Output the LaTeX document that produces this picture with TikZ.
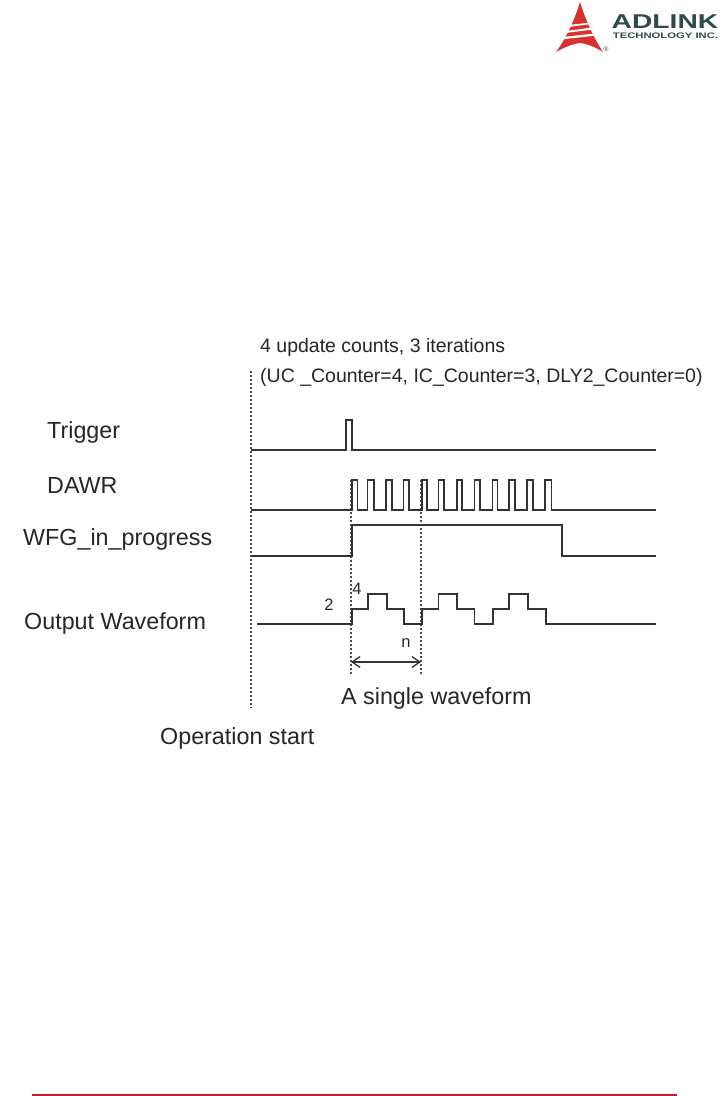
\documentclass[tikz,border=0pt]{standalone}
\usepackage{fontspec}
\setmainfont{Liberation Sans}
\usetikzlibrary{arrows.meta}
\definecolor{logored}{HTML}{D9302C}
\definecolor{logodark}{HTML}{2F4A4C}
\definecolor{rulered}{HTML}{C01F2B}
\definecolor{wavecol}{HTML}{333333}
\tikzset{
  x=1pt,y=-1pt,
  wave/.style={draw=wavecol,line width=1.6pt,line join=miter},
  guide/.style={draw=black!70,line width=1.2pt,dash pattern=on 1.5pt off 2.5pt},
  lab/.style={inner sep=0pt,anchor=west,text=black!85,font=\fontsize{23.3}{26}\selectfont},
  note/.style={inner sep=0pt,anchor=west,text=black!85,font=\fontsize{19.5}{22}\selectfont},
  small/.style={inner sep=0pt,text=black!85,font=\fontsize{16.5}{18}\selectfont},
}
\begin{document}
\begin{tikzpicture}
\useasboundingbox (0,0) rectangle (722,1096);
% logo
\fill[logored] (580,2) .. controls (586,22) and (595,40) .. (603,52)
  .. controls (595,47) and (588,44) .. (580,43)
  .. controls (572,44) and (565,47) .. (556,52)
  .. controls (565,40) and (574,22) .. (580,2) -- cycle;
\fill[white] (569,25) -- (590,22.5) -- (591,24) -- (568,27) -- cycle;
\fill[white] (566,31) -- (592,27.5) -- (593.5,29.5) -- (565,33) -- cycle;
\fill[white] (562,37) -- (595,33.5) -- (596.5,35.5) -- (561,39.5) -- cycle;
\node[inner sep=0pt,text=logodark,font=\fontsize{20}{20}\selectfont\bfseries] (adl) at (665,21.5) {\scalebox{1.41}[1]{ADLINK}};
\node[inner sep=0pt,text=logodark,font=\fontsize{8}{9}\selectfont\bfseries] (tech) at (665.5,35.5) {\scalebox{1.41}[1]{TECHNOLOGY INC.}};
\node[inner sep=0pt,text=logodark,font=\fontsize{6.5}{7}\selectfont] (reg) at (606,49) {®};
% footer
\coordinate (fl) at (32,1095);
\coordinate (fr) at (677,1095);
\draw[rulered,line width=2pt] (fl) -- (fr);
% labels
\node[note] (t1) at (260,347) {4 update counts, 3 iterations};
\node[note] (t2) at (260,377) {(UC \_Counter=4, IC\_Counter=3, DLY2\_Counter=0)};
\node[lab] (trig) at (47,432) {Trigger};
\node[lab] (dawr) at (47,485) {DAWR};
\node[lab] (wfg) at (23,539) {WFG\_in\_progress};
\node[lab] (out) at (24,623) {Output Waveform};
\node[lab] (single) at (341,698) {A single waveform};
\node[lab] (start) at (160,738) {Operation start};
\node[small] (two) at (329,605) {2};
\node[small] (four) at (357,589) {4};
\node[small] (n) at (406,643) {n};
% guides
\coordinate (g0a) at (251,371); \coordinate (g0b) at (251,708);
\coordinate (g1a) at (351,480); \coordinate (g1b) at (351,675);
\coordinate (g2a) at (421,480); \coordinate (g2b) at (421,675);
\draw[guide] (g0a) -- (g0b);
\draw[guide] (g1a) -- (g1b);
\draw[guide] (g2a) -- (g2b);
% span arrow
\coordinate (sa) at (351,662); \coordinate (sb) at (421,662);
\draw[draw=wavecol,line width=1.3pt,{Straight Barb[length=8pt,width=11pt]}-{Straight Barb[length=8pt,width=11pt]}] (sa) -- (sb);
% waveforms
\draw[wave] (251,450) -- (345.7,450) -- (345.7,420) -- (351.7,420) -- (351.7,450) -- (656,450);
\draw[wave] (251,510) -- (351.7,510) -- (351.7,480) -- (357.5,480) -- (357.5,510)
  -- (367.3,510) -- (367.3,480) -- (374,480) -- (374,510)
  -- (385.7,510) -- (385.7,480) -- (391.7,480) -- (391.7,510)
  -- (403.3,510) -- (403.3,480) -- (409,480) -- (409,510)
  -- (421.7,510) -- (421.7,480) -- (427,480) -- (427,510)
  -- (438.3,510) -- (438.3,480) -- (444,480) -- (444,510)
  -- (456.7,510) -- (456.7,480) -- (462,480) -- (462,510)
  -- (474.3,510) -- (474.3,480) -- (480,480) -- (480,510)
  -- (492.3,510) -- (492.3,480) -- (497.5,480) -- (497.5,510)
  -- (509,510) -- (509,480) -- (515,480) -- (515,510)
  -- (526.7,510) -- (526.7,480) -- (533,480) -- (533,510)
  -- (545,510) -- (545,480) -- (551.5,480) -- (551.5,510) -- (656,510);
\draw[wave] (251,556) -- (351.7,556) -- (351.7,525) -- (561.7,525) -- (561.7,556) -- (656,556);
\draw[wave] (257,624) -- (351.7,624) -- (351.7,609) -- (368,609) -- (368,594) -- (386.7,594) -- (386.7,609)
  -- (404,609) -- (404,624) -- (421.7,624) -- (421.7,609) -- (438.3,609) -- (438.3,594) -- (457,594) -- (457,609)
  -- (474.3,609) -- (474.3,624) -- (492.7,624) -- (492.7,609) -- (509,609) -- (509,594) -- (527.7,594) -- (527.7,609)
  -- (545.7,609) -- (545.7,624) -- (656,624);
\end{tikzpicture}
\end{document}
